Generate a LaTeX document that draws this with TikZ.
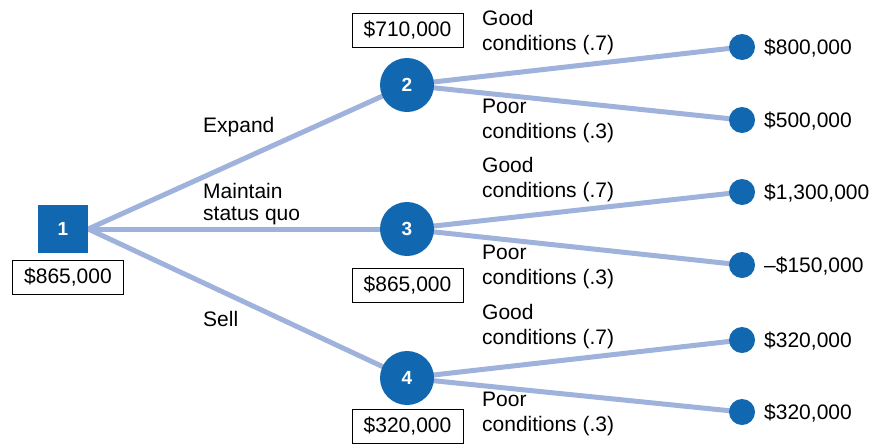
\documentclass[tikz,border=0pt]{standalone}
\usepackage{fontspec}
\setmainfont{Liberation Sans}
\usetikzlibrary{backgrounds}
\definecolor{nodeblue}{RGB}{18,104,176}
\definecolor{linkblue}{RGB}{158,178,220}
\begin{document}
\begin{tikzpicture}[x=1pt,y=-1pt,
  txt/.style={anchor=base west,inner sep=0pt,font=\fontsize{21}{25}\selectfont},
  valbox/.style={draw=black,line width=0.9pt,minimum width=111pt,minimum height=34pt,inner sep=0pt,font=\fontsize{21}{25}\selectfont},
  decsq/.style={fill=nodeblue,minimum width=50pt,minimum height=48pt,inner sep=0pt,text=white,font=\fontsize{19}{22}\selectfont\bfseries},
  chance/.style={circle,fill=nodeblue,minimum size=54pt,inner sep=0pt,text=white,font=\fontsize{19}{22}\selectfont\bfseries},
  enddot/.style={circle,fill=nodeblue,minimum size=26pt,inner sep=0pt},
  link/.style={draw=linkblue,line width=5pt}]
\useasboundingbox (0,0) rectangle (875,445);
% nodes
\node[decsq] (n1) at (63,229) {1};
\node[chance] (n2) at (407,85) {2};
\node[chance] (n3) at (407,229) {3};
\node[chance] (n4) at (407,378) {4};
\node[enddot] (e1) at (742,47) {};
\node[enddot] (e2) at (742,120) {};
\node[enddot] (e3) at (742,192) {};
\node[enddot] (e4) at (742,265) {};
\node[enddot] (e5) at (742,340) {};
\node[enddot] (e6) at (742,412) {};
% links behind
\begin{scope}[on background layer]
\path[link] (n1.east) -- (n2.center);
\path[link] (n1.east) -- (n3.center);
\path[link] (n1.east) -- (n4.center);
\path[link] (n2.center) -- (e1.center);
\path[link] (n2.center) -- (e2.center);
\path[link] (n3.center) -- (e3.center);
\path[link] (n3.center) -- (e4.center);
\path[link] (n4.center) -- (e5.center);
\path[link] (n4.center) -- (e6.center);
\end{scope}
% value boxes
\node[valbox] (v1) at (68,277) {\$865,000};
\node[valbox] (v2) at (407.5,30) {\$710,000};
\node[valbox] (v3) at (407.5,285) {\$865,000};
\node[valbox] (v4) at (407.5,426) {\$320,000};
% branch labels
\node[txt] (lexp) at (203,132) {Expand};
\node[txt] (lmt1) at (203,198) {Maintain};
\node[txt] (lmt2) at (203,220) {status quo};
\node[txt] (lsell) at (203,326) {Sell};
% condition labels
\node[txt] (g2a) at (482,25) {Good};
\node[txt] (g2b) at (482,50) {conditions (.7)};
\node[txt] (p2a) at (482,113) {Poor};
\node[txt] (p2b) at (482,138) {conditions (.3)};
\node[txt] (g3a) at (482,172) {Good};
\node[txt] (g3b) at (482,197) {conditions (.7)};
\node[txt] (p3a) at (482,259) {Poor};
\node[txt] (p3b) at (482,284) {conditions (.3)};
\node[txt] (g4a) at (482,319) {Good};
\node[txt] (g4b) at (482,344) {conditions (.7)};
\node[txt] (p4a) at (482,406) {Poor};
\node[txt] (p4b) at (482,431) {conditions (.3)};
% payoffs
\node[txt] (o1) at (764,54.5) {\$800,000};
\node[txt] (o2) at (764,127.5) {\$500,000};
\node[txt] (o3) at (764,199.5) {\$1,300,000};
\node[txt] (o4) at (764,272.5) {–\$150,000};
\node[txt] (o5) at (764,347.5) {\$320,000};
\node[txt] (o6) at (764,419.5) {\$320,000};
\end{tikzpicture}
\end{document}
